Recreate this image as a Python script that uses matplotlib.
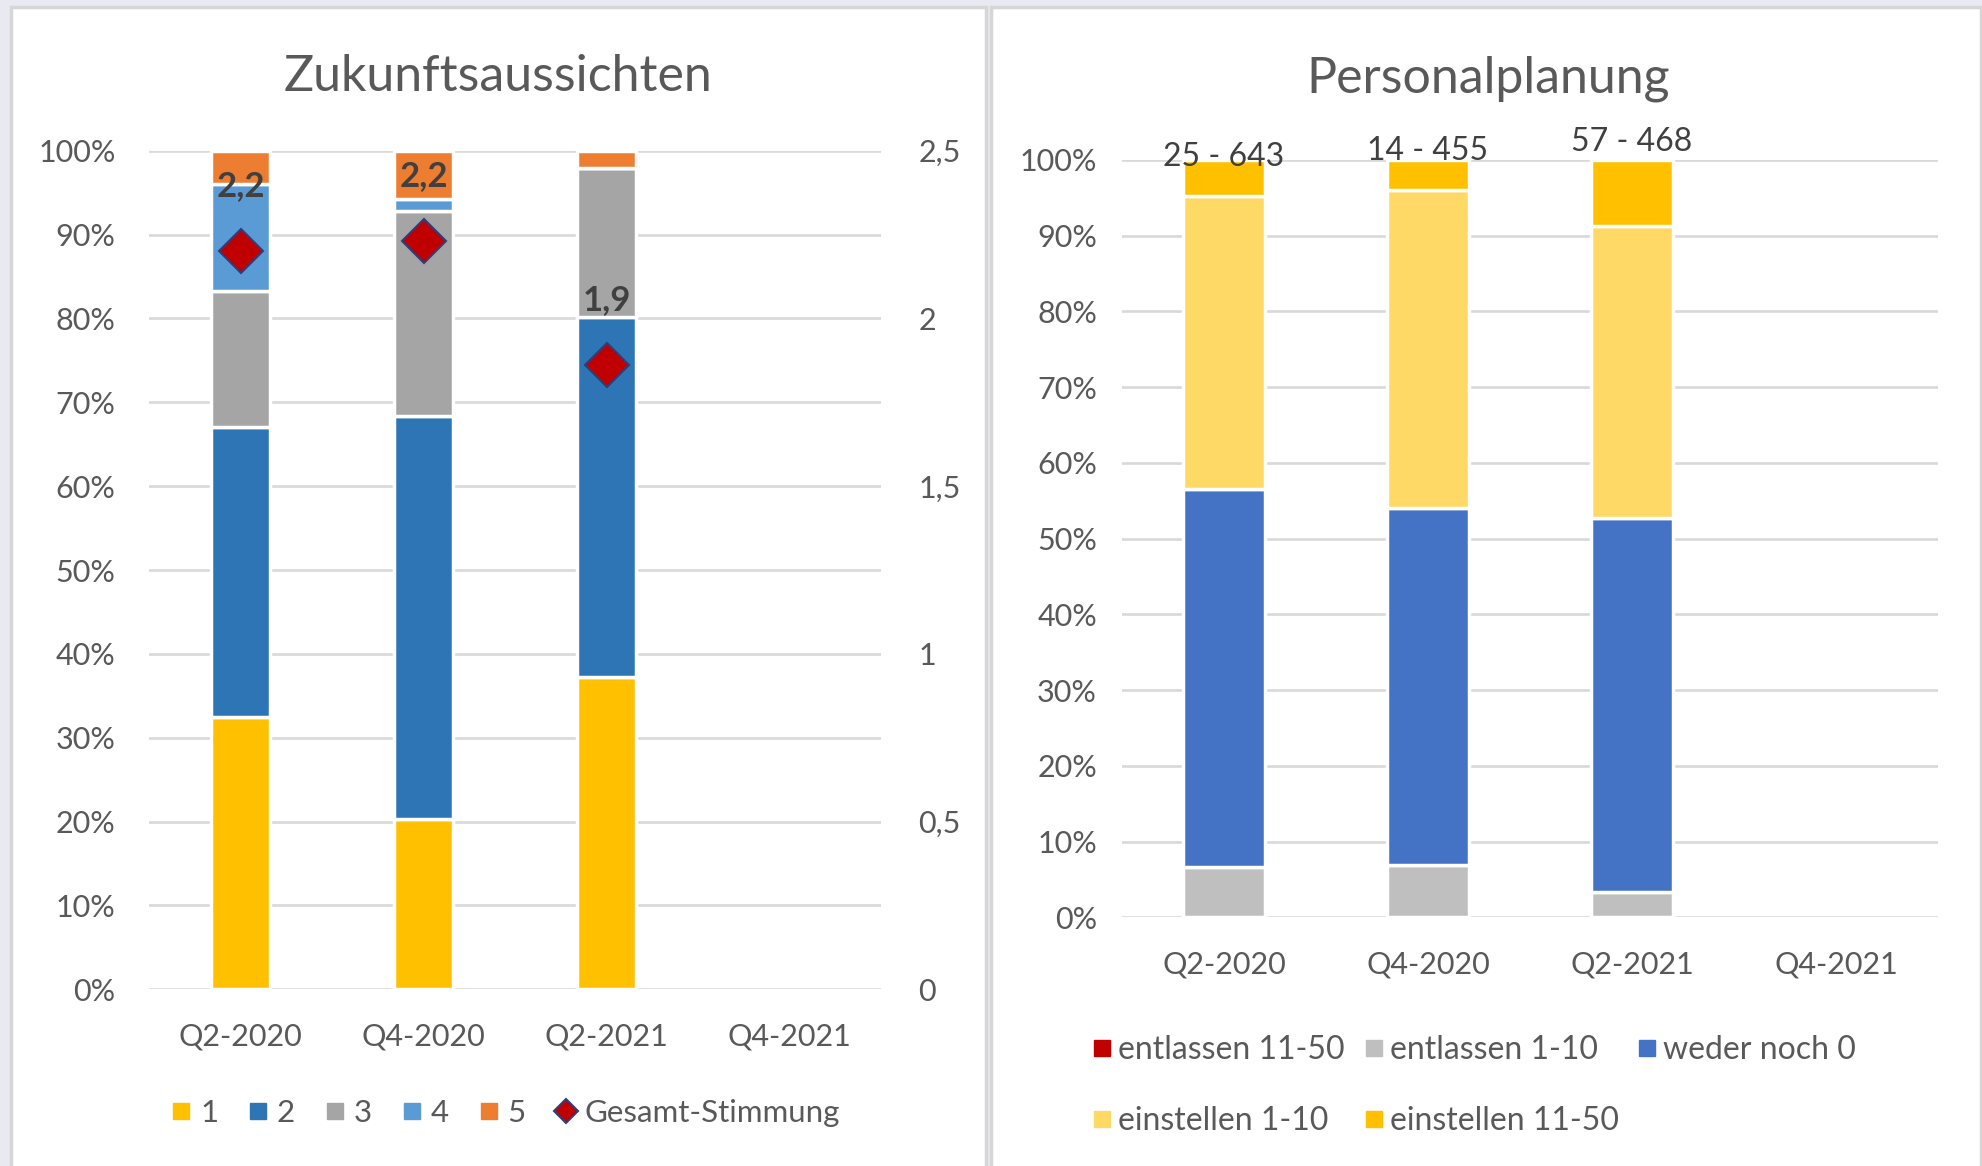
import matplotlib.pyplot as plt
from matplotlib.lines import Line2D
from matplotlib.patches import Rectangle
import numpy as np

# data
quarters = ['Q2-2020', 'Q4-2020', 'Q2-2021', 'Q4-2021']

# Zukunftsaussichten, share of answers 1..5 (percent)
grade_1 = [32.5, 20.3, 37.3]
grade_2 = [34.5, 48.1, 42.9]
grade_3 = [16.3, 24.4, 17.7]
grade_4 = [12.7, 1.4, 0.0]
grade_5 = [4.0, 5.8, 2.1]
gesamt_stimmung = [2.20, 2.23, 1.86]
gesamt_labels = ['2,2', '2,2', '1,9']

# Personalplanung (percent)
entlassen_11_50 = [0.0, 0.0, 0.0]
entlassen_1_10 = [6.7, 6.9, 3.4]
weder_noch = [49.8, 47.2, 49.3]
einstellen_1_10 = [38.8, 41.9, 38.6]
einstellen_11_50 = [4.7, 4.0, 8.7]
personal_labels = ['25 - 643', '14 - 455', '57 - 468']
personal_label_y = [100.4, 101.2, 102.4]

plt.rcParams['font.family'] = ['Lato', 'DejaVu Sans']
text_col = '#595959'
grid_col = '#D9D9D9'

W, H = 1982, 1166
fig = plt.figure(figsize=(W / 100, H / 100), dpi=100, facecolor='#E9E9F1')


def px_box(x0, y0, x1, y1):
    # pixel box (top-left origin) -> figure fraction [left, bottom, width, height]
    return [x0 / W, 1 - y1 / H, (x1 - x0) / W, (y1 - y0) / H]


# white panels with a light gray frame
for x0, x1 in [(11, 986), (991, 1981)]:
    l, b, w, h = px_box(x0, 7, x1, H + 5)
    fig.patches.append(Rectangle((l, b), w, h, transform=fig.transFigure,
                                 facecolor='white', edgecolor='#D6D6D6', lw=2.5, zorder=-5))


def style_axis(ax, ypad):
    ax.set_facecolor('none')
    ax.set_axisbelow(True)
    ax.yaxis.grid(True, color=grid_col, lw=1.9)
    for s in ax.spines.values():
        s.set_visible(False)
    ax.tick_params(length=0, labelsize=22, colors=text_col)
    ax.tick_params(axis='y', pad=ypad)
    ax.tick_params(axis='x', pad=24)


# ---------------- left chart ----------------
ax1 = fig.add_axes(px_box(149, 150.7, 881, 989.3))
x = np.arange(len(grade_1))
left_series = [grade_1, grade_2, grade_3, grade_4, grade_5]
left_names = ['1', '2', '3', '4', '5']
left_colors = ['#FFC000', '#2E75B6', '#A5A5A5', '#5B9BD5', '#ED7D31']
bottom = np.zeros(len(x))
for vals, col in zip(left_series, left_colors):
    v = np.array(vals) / 100
    ax1.bar(x, v, 0.32, bottom=bottom, color=col, edgecolor='white', lw=2.5)
    bottom += v

ax1.set_xlim(-0.5, 3.5)
ax1.set_ylim(0, 1)
ax1.set_yticks(np.arange(0, 1.01, 0.1))
ax1.set_yticklabels([f'{int(round(t * 100))}%' for t in np.arange(0, 1.01, 0.1)])
ax1.set_xticks(range(len(quarters)))
ax1.set_xticklabels(quarters)
style_axis(ax1, 24)

ax1b = ax1.twinx()
ax1b.set_ylim(0, 2.5)
ax1b.set_yticks(np.arange(0, 2.51, 0.5))
ax1b.set_yticklabels(['0', '0,5', '1', '1,5', '2', '2,5'])
for s in ax1b.spines.values():
    s.set_visible(False)
ax1b.tick_params(length=0, labelsize=22, colors=text_col, pad=27)
ax1b.plot(x, gesamt_stimmung, linestyle='none', marker='D', ms=22,
          markerfacecolor='#C00000', markeredgecolor='#2F3E7A', markeredgewidth=1.5)
for xi, yi, lab in zip(x, gesamt_stimmung, gesamt_labels):
    ax1b.annotate(lab, (xi, yi), xytext=(0, 47), textcoords='offset points',
                  ha='center', va='center', fontsize=25, fontweight='bold', color='#404040')

fig.text(498 / W, 1 - 77 / H, 'Zukunftsaussichten', ha='center', va='center',
         fontsize=36, color=text_col)

h_left = [Line2D([], [], linestyle='none', marker='s', ms=11, color=c) for c in left_colors]
h_left.append(Line2D([], [], linestyle='none', marker='D', ms=12,
                     markerfacecolor='#C00000', markeredgecolor='#2F3E7A', markeredgewidth=1.5))
fig.legend(h_left, left_names + ['Gesamt-Stimmung'], loc='center',
           bbox_to_anchor=(506 / W, 1 - 1113 / H), ncol=6, frameon=False,
           fontsize=22.5, labelcolor=text_col, handlelength=0.6, handletextpad=0.3,
           columnspacing=0.98)

# ---------------- right chart ----------------
ax2 = fig.add_axes(px_box(1122, 160, 1938, 917.3))
right_series = [entlassen_11_50, entlassen_1_10, weder_noch, einstellen_1_10, einstellen_11_50]
right_names = ['entlassen 11-50', 'entlassen 1-10', 'weder noch 0', 'einstellen 1-10', 'einstellen 11-50']
right_colors = ['#C00000', '#BFBFBF', '#4472C4', '#FFD966', '#FFC000']
bottom = np.zeros(len(x))
for vals, col in zip(right_series, right_colors):
    v = np.array(vals)
    ax2.bar(x, v, 0.40, bottom=bottom, color=col, edgecolor='white', lw=2.5)
    bottom += v

for xi, yi, lab in zip(x, personal_label_y, personal_labels):
    ax2.text(xi, yi, lab, ha='center', va='center', fontsize=23, color='#404040')

ax2.set_xlim(-0.5, 3.5)
ax2.set_ylim(0, 100)
ax2.set_yticks(range(0, 101, 10))
ax2.set_yticklabels([f'{t}%' for t in range(0, 101, 10)])
ax2.set_xticks(range(len(quarters)))
ax2.set_xticklabels(quarters)
style_axis(ax2, 18)

fig.text(1488 / W, 1 - 79 / H, 'Personalplanung', ha='center', va='center',
         fontsize=36, color=text_col)

h_right = [Line2D([], [], linestyle='none', marker='s', ms=11, color=c) for c in right_colors]
order = [0, 3, 1, 4, 2]
fig.legend([h_right[i] for i in order], [right_names[i] for i in order],
           loc='upper left', bbox_to_anchor=(1064 / W, 1 - 1006 / H), ncol=3,
           frameon=False, fontsize=23, labelcolor=text_col, handlelength=0.6,
           handletextpad=0.2, columnspacing=0.6, labelspacing=1.3)

fig.savefig('out.png', dpi=100, facecolor=fig.get_facecolor())
